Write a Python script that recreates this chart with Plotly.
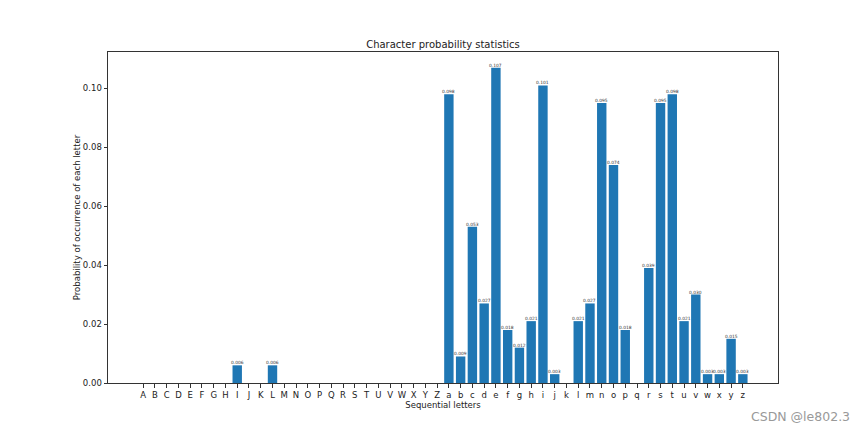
import plotly.graph_objects as go

letters = [chr(c) for c in range(65, 91)] + [chr(c) for c in range(97, 123)]
upper_probs = [0, 0, 0, 0, 0, 0, 0, 0, 0.006, 0, 0, 0.006, 0, 0, 0, 0, 0, 0, 0, 0, 0, 0, 0, 0, 0, 0]
lower_probs = [0.098, 0.009, 0.053, 0.027, 0.107, 0.018, 0.012, 0.021, 0.101, 0.003, 0, 0.021, 0.027,
               0.095, 0.074, 0.018, 0, 0.039, 0.095, 0.098, 0.021, 0.030, 0.003, 0.003, 0.015, 0.003]
probs = upper_probs + lower_probs
xs = list(range(len(letters)))
labels = ["%.3f" % p if p > 0 else "" for p in probs]

fig = go.Figure(go.Bar(
    x=xs, y=probs, width=0.8, marker=dict(color="#1f77b4", line=dict(width=0)),
))

axis_common = dict(showline=True, linecolor="#333", linewidth=1, mirror=True, automargin=False,
                   ticks="outside", ticklen=3.5, tickcolor="#333", showgrid=False,
                   zeroline=False, tickfont=dict(size=8.5, family="DejaVu Sans", color="#222"))

value_labels = [dict(x=x, y=p, text=t, xref="x", yref="y", showarrow=False,
                     xanchor="center", yanchor="bottom", yshift=-1, borderpad=0,
                     font=dict(size=4.4, family="DejaVu Sans", color="#333"))
                for x, p, t in zip(xs, probs, labels) if t]

fig.update_layout(
    width=865, height=431, plot_bgcolor="white", paper_bgcolor="white",
    margin=dict(l=108, r=87, t=52, b=48),
    showlegend=False,
    title=dict(text="Character probability statistics", x=(108 + 778) / 2 / 865, xanchor="center",
               y=1 - 44 / 431, yanchor="middle",
               font=dict(size=10, family="DejaVu Sans", color="#222")),
    xaxis=dict(range=[-2.99, 53.99], tickvals=xs, ticktext=letters,
               title=dict(text="Sequential letters", font=dict(size=8.5, family="DejaVu Sans", color="#222"), standoff=2),
               **axis_common),
    yaxis=dict(range=[0, 0.11235], tickvals=[0, 0.02, 0.04, 0.06, 0.08, 0.10],
               ticktext=["0.00", "0.02", "0.04", "0.06", "0.08", "0.10"],
               title=dict(text="Probability of occurrence of each letter", font=dict(size=8.5, family="DejaVu Sans", color="#222"), standoff=0),
               **axis_common),
    annotations=value_labels + [dict(text="CSDN @le802.3", xref="paper", yref="paper", x=1, y=0,
                      xanchor="right", yanchor="middle", showarrow=False, xshift=74, yshift=-33,
                      font=dict(size=12.5, family="DejaVu Sans", color="#999"))],
)

fig.write_html("out.html", config={"displayModeBar": False},
               post_script="document.body.style.margin='0';document.body.style.padding='0';")
